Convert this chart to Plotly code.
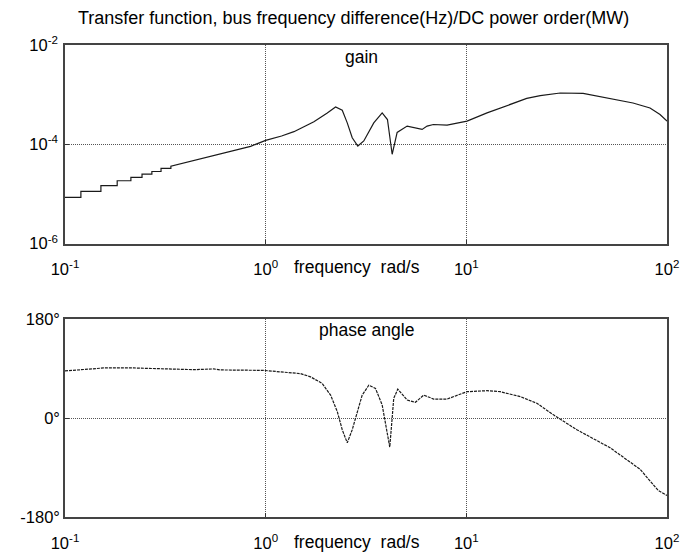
import plotly.graph_objects as go
from plotly.subplots import make_subplots


# ----------------------------------------
# Data
# ----------------------------------------

gain_freq = [
    0.100, 0.120, 0.120, 0.151, 0.151, 0.182, 0.182, 0.213, 0.213,
    0.242, 0.242, 0.271, 0.271, 0.301, 0.301, 0.337, 0.337,
    0.424, 0.532, 0.670, 0.841, 1.0, 1.2, 1.383, 1.6, 1.739, 2.028, 2.15, 2.230,
    2.408, 2.550, 2.700, 2.879, 3.083, 3.457, 3.807, 4.045, 4.269,
    4.521, 5.070, 5.576, 6.021, 6.375, 6.851, 8.017, 10.08, 12.68,
    17.13, 20.0, 23.35, 29.36, 38.2, 50.3, 67.7, 82.3, 92.3, 100.0
]

gain_value = [
    8.59e-6, 8.59e-6, 1.13e-5, 1.13e-5, 1.47e-5, 1.47e-5, 1.85e-5, 1.85e-5, 2.16e-5,
    2.16e-5, 2.51e-5, 2.51e-5, 2.84e-5, 2.84e-5, 3.27e-5, 3.27e-5, 3.63e-5,
    4.57e-5, 5.75e-5, 7.24e-5, 9.12e-5, 1.20e-4, 1.47e-4, 1.80e-4, 2.40e-4, 2.85e-4, 4.30e-4, 5.16e-4, 5.67e-4,
    4.86e-4, 2.71e-4, 1.36e-4, 9.26e-5, 1.17e-4, 2.71e-4, 4.30e-4, 3.16e-4, 6.31e-5,
    1.74e-4, 2.33e-4, 2.16e-4, 2.00e-4, 2.33e-4, 2.51e-4, 2.44e-4, 2.93e-4, 4.30e-4,
    6.81e-4, 8.40e-4, 9.55e-4, 1.08e-3, 1.06e-3, 8.58e-4, 6.81e-4, 5.41e-4, 3.98e-4, 2.93e-4
]

phase_freq = [
    0.100, 0.127, 0.156, 0.220, 0.391, 0.439, 0.551, 0.597, 0.977,
    1.188, 1.378, 1.493, 1.674, 1.914, 2.106, 2.274, 2.408, 2.550,
    2.700, 2.859, 3.027, 3.266, 3.527, 3.807, 4.031, 4.153, 4.269,
    4.347, 4.552, 5.070, 5.576, 6.021, 6.133, 6.875, 8.017, 10.08,
    12.68, 14.76, 18.57, 22.47, 27.19, 35.54, 52.05, 73.4, 85.5,
    90.5, 100.0
]

phase_deg = [
    85.9, 88.2, 91.3, 91.3, 89.5, 88.2, 89.5, 87.7, 86.9,
    84.6, 82.8, 81.0, 75.1, 63.0, 41.9, 12.1, -21.1, -45.0,
    -21.1, 12.1, 41.9, 59.9, 54.0, 23.9, -23.9, -52.7, 0.0,
    36.0, 52.7, 32.9, 28.8, 39.1, 41.9, 34.7, 34.7, 48.1,
    49.9, 48.1, 39.1, 27.0, 5.9, -21.1, -54.0, -93.1, -122.9,
    -131.9, -140.9
]

freq_ticks = [0.1, 1, 10, 100]
freq_labels = ["10<sup>-1</sup>", "10<sup>0</sup>", "10<sup>1</sup>", "10<sup>2</sup>"]

gain_ticks = [1e-6, 1e-4, 1e-2]
gain_labels = ["10<sup>-6</sup>", "10<sup>-4</sup>", "10<sup>-2</sup>"]

phase_ticks = [-180, 0, 180]
phase_labels = ["-180°", "0°", "180°"]


# ----------------------------------------
# Figure
# ----------------------------------------

fig = make_subplots(rows=2, cols=1)

fig.add_trace(
    go.Scatter(
        x=gain_freq,
        y=gain_value,
        mode="lines",
        line=dict(color="#1a1a1a", width=1.2),
        showlegend=False
    ),
    row=1, col=1
)

fig.add_trace(
    go.Scatter(
        x=phase_freq,
        y=phase_deg,
        mode="lines",
        line=dict(color="#1a1a1a", width=1.2, dash="3px,1px"),
        showlegend=False
    ),
    row=2, col=1
)


# ----------------------------------------
# Axes
# ----------------------------------------

tick_font = dict(family="Liberation Sans", size=16.5, color="#000000")

axis_style = dict(
    showline=True,
    linecolor="#444444",
    linewidth=1.5,
    mirror=True,
    showgrid=True,
    gridcolor="#555555",
    gridwidth=1,
    griddash="1px,1px",
    zeroline=False,
    ticks="inside",
    ticklen=4,
    tickcolor="#333333",
    tickfont=tick_font
)

for r in (1, 2):
    fig.update_xaxes(
        type="log",
        range=[-1, 2],
        tickvals=freq_ticks,
        ticktext=freq_labels,
        ticklabelstandoff=10,
        **axis_style,
        row=r, col=1
    )

fig.update_yaxes(
    type="log",
    range=[-6, -2],
    tickvals=gain_ticks,
    ticktext=gain_labels,
    ticklabelstandoff=2,
    **axis_style,
    row=1, col=1
)

fig.update_yaxes(
    range=[-180, 180],
    tickvals=phase_ticks,
    ticktext=phase_labels,
    ticklabelstandoff=0,
    **axis_style,
    row=2, col=1
)

fig.update_layout(
    xaxis=dict(domain=[0, 1]),
    xaxis2=dict(domain=[0, 1]),
    yaxis=dict(domain=[0.579, 1.0]),
    yaxis2=dict(domain=[0.0, 0.419])
)


# ----------------------------------------
# Text
# ----------------------------------------

text_font = dict(family="Liberation Sans", size=17.5, color="#000000")

notes = [
    ("Transfer function, bus frequency difference(Hz)/DC power order(MW)", 0.479, 1.057, 18),
    ("gain", 0.493, 0.975, 17.5),
    ("phase angle", 0.50, 0.396, 17.5),
    ("frequency  rad/s", 0.485, 0.5305, 17.5),
    ("frequency  rad/s", 0.485, -0.0526, 17.5),
]

for text, x, y, size in notes:
    fig.add_annotation(
        text=text,
        x=x,
        y=y,
        xref="paper",
        yref="paper",
        xanchor="center",
        yanchor="middle",
        showarrow=False,
        font=dict(family="Liberation Sans", size=size, color="#000000")
    )

# the page body adds an 8px margin, so the margins are shifted back by 8px
fig.update_layout(
    width=697,
    height=556,
    paper_bgcolor="white",
    plot_bgcolor="white",
    margin=dict(l=56, r=38, t=37, b=44),
    font=text_font
)

fig.write_html("out.html")
